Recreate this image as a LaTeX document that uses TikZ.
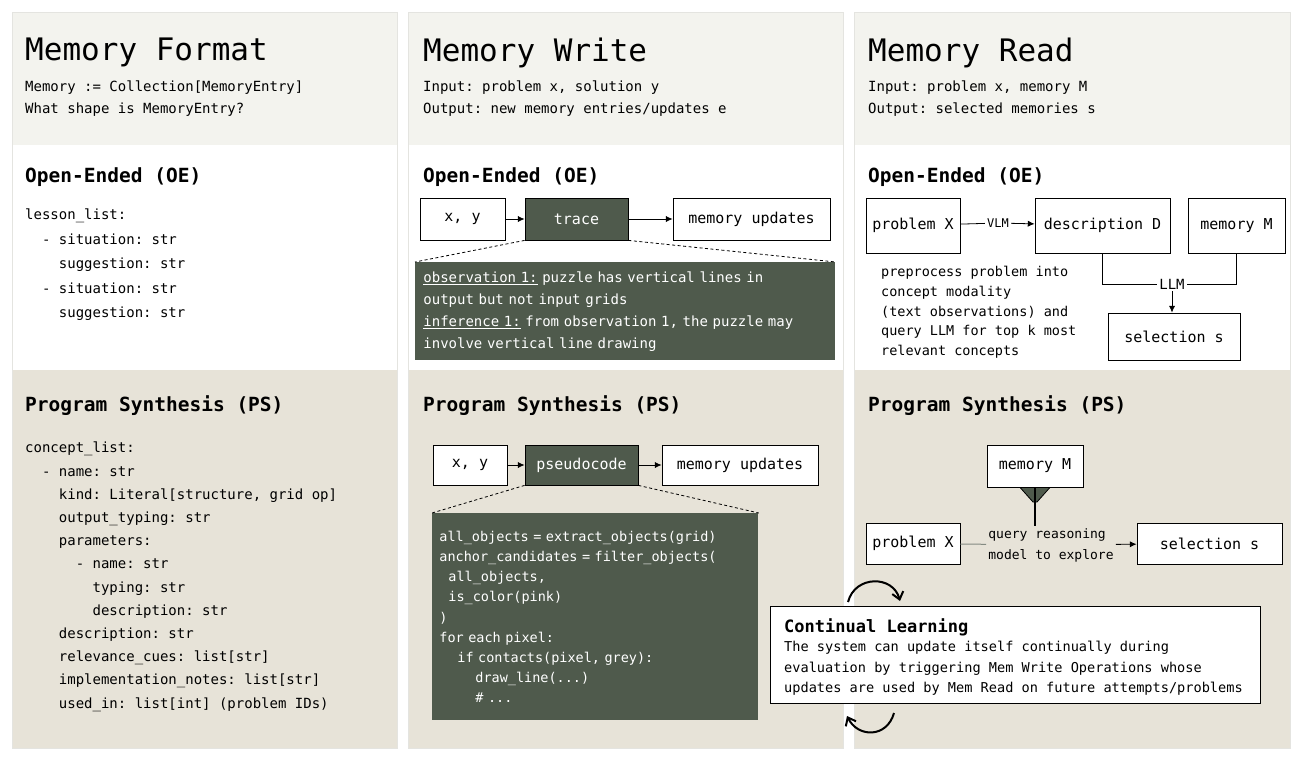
\documentclass[tikz,border=0pt]{standalone}
\usepackage{fontspec}
\setmonofont{DejaVu Sans Mono}
\usetikzlibrary{arrows.meta}
\definecolor{headbg}{HTML}{F3F3EE}
\definecolor{psbg}{HTML}{E7E3D8}
\definecolor{darkbox}{HTML}{4F5A4C}
\definecolor{rulegray}{HTML}{E4E4E0}
\tikzset{%
	>={Latex[width=2.2mm,length=2.4mm]},
	% panels and texts
	panel/.style = {draw=rulegray, line width=1pt},
	title/.style = {anchor=north west, inner sep=0pt, font=\ttfamily\fontsize{31}{36}\selectfont},
	sub/.style = {anchor=north west, inner sep=0pt, align=left, font=\ttfamily\fontsize{14}{22}\selectfont},
	heading/.style = {anchor=north west, inner sep=0pt, font=\ttfamily\bfseries\fontsize{19.5}{24}\selectfont},
	listing/.style = {anchor=north west, inner sep=0pt, align=left, font=\ttfamily\fontsize{14}{23.2}\selectfont},
	% boxes
	box/.style = {draw=black, line width=0.8pt, fill=white, inner sep=0pt,
		font=\ttfamily\fontsize{15}{18}\selectfont},
	darkbox/.style = {box, fill=darkbox, text=white},
	connect/.style = {line width=0.8pt, ->},
	zoomline/.style = {line width=0.8pt, dash pattern=on 3pt off 2.5pt},
}
\begin{document}
\begin{tikzpicture}[x=1pt, y=-1pt]
	\useasboundingbox (0,0) rectangle (1300,758);
	\fill[white] (0,0) rectangle (1300,758);

	% column panels
	\foreach \xl/\xr in {12/397, 408/843, 854/1290} {
		\fill[headbg] (\xl,12) rectangle (\xr,145);
		\fill[white] (\xl,145) rectangle (\xr,370);
		\fill[psbg] (\xl,370) rectangle (\xr,748);
		\draw[panel] (\xl,12) rectangle (\xr,748);
	}

	% Memory Format
	\node (fmtTitle) [title] at (25,38) {Memory Format};
	\node (fmtSub) [sub] at (25,81) {Memory := Collection[MemoryEntry]\\What shape is MemoryEntry?};
	\node (fmtOE) [heading] at (25,167) {Open-Ended (OE)};
	\node (fmtOEList) [listing, font=\ttfamily\fontsize{14}{24.5}\selectfont] at (25,209)
	{lesson\_list:\\
	\ \ - situation: str\\
	\ \ \ \ suggestion: str\\
	\ \ - situation: str\\
	\ \ \ \ suggestion: str};
	\node (fmtPS) [heading] at (25,395) {Program Synthesis (PS)};
	\node (fmtPSList) [listing] at (25,442)
	{concept\_list:\\
	\ \ - name: str\\
	\ \ \ \ kind: Literal[structure, grid op]\\
	\ \ \ \ output\_typing: str\\
	\ \ \ \ parameters:\\
	\ \ \ \ \ \ - name: str\\
	\ \ \ \ \ \ \ \ typing: str\\
	\ \ \ \ \ \ \ \ description: str\\
	\ \ \ \ description: str\\
	\ \ \ \ relevance\_cues: list[str]\\
	\ \ \ \ implementation\_notes: list[str]\\
	\ \ \ \ used\_in: list[int] (problem IDs)};

	% Memory Write
	\node (wrTitle) [title] at (423,38) {Memory Write};
	\node (wrSub) [sub] at (423,81) {Input: problem x, solution y\\Output: new memory entries/updates e};
	\node (wrOE) [heading] at (423,167) {Open-Ended (OE)};
	\node (wrXY) [box, minimum width=85pt, minimum height=42pt] at (462.5,219) {x, y};
	\node (wrTrace) [darkbox, minimum width=103pt, minimum height=42pt] at (576.5,219) {trace};
	\node (wrUpd) [box, minimum width=157pt, minimum height=42pt] at (751.5,219) {memory updates};
	\draw[connect] (wrXY) -- (wrTrace);
	\draw[connect] (wrTrace) -- (wrUpd);
	\node (wrTraceText) [darkbox, draw=none, anchor=north west, minimum width=420pt, minimum height=98pt,
		align=left, text width=404pt, inner xsep=8pt, font=\ttfamily\fontsize{14}{22}\selectfont] at (415,262)
	{\underline{observation 1:} puzzle has vertical lines in\\
	output but not input grids\\
	\underline{inference 1:} from observation 1, the puzzle may\\
	involve vertical line drawing};
	\draw[zoomline] (wrTrace.south west) -- (wrTraceText.north west);
	\draw[zoomline] (wrTrace.south east) -- (wrTraceText.north east);

	\node (wrPS) [heading] at (423,395) {Program Synthesis (PS)};
	\node (wrPSXY) [box, minimum width=74pt, minimum height=40pt] at (470,465) {x, y};
	\node (wrPseudo) [darkbox, minimum width=113pt, minimum height=40pt] at (581.5,465) {pseudocode};
	\node (wrPSUpd) [box, minimum width=156pt, minimum height=40pt] at (740,465) {memory updates};
	\draw[connect] (wrPSXY) -- (wrPseudo);
	\draw[connect] (wrPseudo) -- (wrPSUpd);
	\node (wrCode) [darkbox, draw=none, anchor=north west, minimum width=326pt, minimum height=207pt,
		align=left, text width=312pt, inner xsep=7pt, font=\ttfamily\fontsize{13.5}{20.2}\selectfont] at (432,513)
	{all\_objects = extract\_objects(grid)\\
	anchor\_candidates = filter\_objects(\\
	\ \ all\_objects,\\
	\ \ is\_color(pink)\\
	)\\
	for each pixel:\\
	\ \ \ \ if contacts(pixel, grey):\\
	\ \ \ \ \ \ \ \ draw\_line(...)\\
	\ \ \ \ \ \ \ \ \# ...};
	\draw[zoomline] (wrPseudo.south west) -- (wrCode.north west);
	\draw[zoomline] (wrPseudo.south east) -- (wrCode.north east);

	% Memory Read
	\node (rdTitle) [title] at (868,38) {Memory Read};
	\node (rdSub) [sub] at (868,81) {Input: problem x, memory M\\Output: selected memories s};
	\node (rdOE) [heading] at (868,167) {Open-Ended (OE)};
	\node (rdProb) [box, minimum width=94pt, minimum height=55pt] at (913,225.5) {problem X};
	\node (rdDesc) [box, minimum width=135pt, minimum height=55pt] at (1102.5,225.5) {description D};
	\node (rdMem) [box, minimum width=97pt, minimum height=55pt] at (1236.5,225.5) {memory M};
	\node (rdSel) [box, minimum width=132pt, minimum height=47pt] at (1174,336.5) {selection s};
	\node (rdVLM) [inner sep=2pt, font=\ttfamily\fontsize{12}{14}\selectfont] at (998,223) {VLM};
	\node (rdLLM) [inner sep=2pt, fill=white, font=\ttfamily\fontsize{14}{16}\selectfont] at (1172,284) {LLM};
	\draw[line width=0.8pt] (rdProb) -- (rdVLM);
	\draw[connect] (rdVLM) -- (rdDesc);
	\draw[line width=0.8pt] (rdDesc.south) |- (rdLLM.west);
	\draw[line width=0.8pt] (rdMem.south) |- (rdLLM.east);
	\draw[connect] (rdLLM) -- (rdLLM |- rdSel.north);
	\node (rdNote) [anchor=north west, inner sep=0pt, align=left, font=\ttfamily\fontsize{13.5}{19.8}\selectfont] at (881,266)
	{preprocess problem into\\
	concept modality\\
	(text observations) and\\
	query LLM for top k most\\
	relevant concepts};

	\node (rdPS) [heading] at (868,395) {Program Synthesis (PS)};
	\node (rdPSMem) [box, minimum width=96pt, minimum height=42pt] at (1035,466) {memory M};
	\node (rdPSProb) [box, minimum width=94pt, minimum height=41pt] at (913,543.5) {problem X};
	\node (rdPSSel) [box, minimum width=145pt, minimum height=41pt] at (1209.5,543.5) {selection s};
	\node (rdQuery) [inner sep=2pt, align=left, font=\ttfamily\fontsize{13}{21}\selectfont] at (1051,545)
	{query reasoning\\model to explore};
	\coordinate (rdFunnel) at (1027,522);
	\fill[darkbox] ([xshift=-15pt]rdPSMem.south) -- ([xshift=15pt]rdPSMem.south)
		-- ([xshift=2pt]rdPSMem.south |- 0,502) -- ([xshift=-2pt]rdPSMem.south |- 0,502) -- cycle;
	\draw[darkbox, line width=1.5pt] (rdPSMem.south) -- (rdPSMem.south |- rdQuery.north);
	\draw[darkbox!70, line width=1pt] (rdPSProb) -- (rdQuery);
	\draw[connect] (rdQuery) -- (rdPSSel);

	% Continual Learning
	\node (contBox) [box, anchor=north west, minimum width=490pt, minimum height=97pt] at (770,606) {};
	\node (contHead) [anchor=north west, inner sep=0pt, font=\ttfamily\bfseries\fontsize{17}{20}\selectfont] at (784,618) {Continual Learning};
	\node (contText) [anchor=north west, inner sep=0pt, align=left, font=\ttfamily\fontsize{13.6}{20.5}\selectfont] at (784,641)
	{The system can update itself continually during\\
	evaluation by triggering Mem Write Operations whose\\
	updates are used by Mem Read on future attempts/problems};
	\coordinate (loopTopA) at (848,602);
	\coordinate (loopTopB) at (900,601);
	\coordinate (loopBotA) at (894,713);
	\coordinate (loopBotB) at (847,716);
	\draw[line width=2pt, -{Straight Barb[length=2.5mm,width=4mm]}] (loopTopA) .. controls (855,575) and (893,575) .. (loopTopB);
	\draw[line width=2pt, -{Straight Barb[length=2.5mm,width=4mm]}] (loopBotA) .. controls (887,738) and (858,738) .. (loopBotB);
\end{tikzpicture}
\end{document}
